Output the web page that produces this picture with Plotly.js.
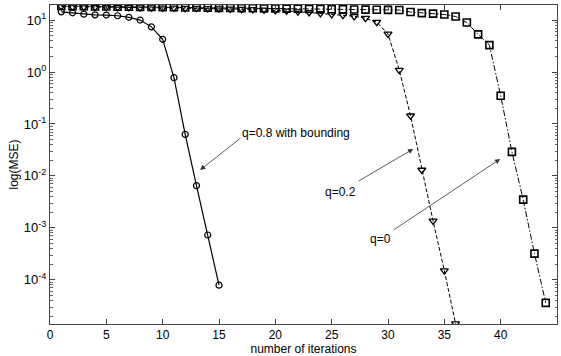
<!DOCTYPE html>
<html>
<head>
<meta charset="utf-8">
<script src="https://cdn.plot.ly/plotly-3.0.1.min.js"></script>
<style>html,body{margin:0;padding:0;background:#fff;}#chart{width:561px;height:356px;}</style>
</head>
<body>
<div id="chart"></div>
<script>
// Data
const xBound = [1,2,3,4,5,6,7,8,9,10,11,12,13,14,15];
const mseBound = [14.4,13.8,13.0,12.6,12.5,12.1,11.3,10.0,7.4,4.26,0.78,0.063,0.0065,0.00073,0.000079];

const xQ02 = Array.from({length:36},(_,i)=>i+1);
const mseQ02 = [18.2,18.0,17.9,17.8,17.7,17.6,17.5,17.4,17.3,17.2,17.1,17.0,16.9,16.8,16.6,16.4,16.2,16.0,15.7,15.4,15.0,14.5,14.0,13.4,12.9,12.4,11.8,10.9,9.1,5.4,1.09,0.144,0.013,0.00136,0.00015,0.0000143];

const xQ0 = Array.from({length:44},(_,i)=>i+1);
const mseQ0 = [18.6,18.5,18.4,18.3,18.2,18.1,18.0,17.9,17.8,17.7,17.6,17.5,17.4,17.3,17.2,17.1,17.0,16.9,16.8,16.7,16.6,16.5,16.4,16.3,16.2,16.1,16.0,15.9,15.8,15.7,15.6,14.3,13.6,13.3,12.8,11.7,8.95,5.3,3.3,0.35,0.029,0.0035,0.00032,0.000036];

const labels = ["q=0.8 with bounding","q=0.2","q=0"];
const yTickVals = [1e-4,1e-3,1e-2,1e-1,1,10];
const yTickText = ["10<sup>-4</sup>","10<sup>-3</sup>","10<sup>-2</sup>","10<sup>-1</sup>","10<sup>0</sup>","10<sup>1</sup>"];
const xTickVals = [0,5,10,15,20,25,30,35,40,45];

const minorVals = [];
for (let e=-5; e<=1; e++) for (let m=2; m<=9; m++) minorVals.push(m*Math.pow(10,e));

const F = "Arial, 'Liberation Sans', sans-serif";
const traces = [
  {x:xQ0, y:mseQ0, mode:'lines+markers', line:{color:'#000',width:1,dash:'6px,2px,1.5px,2px'},
   marker:{symbol:'square-open',size:7,color:'#000',line:{width:1.6,color:'#000'}}},
  {x:xQ02, y:mseQ02, mode:'lines+markers', line:{color:'#000',width:1,dash:'4px,2px'},
   marker:{symbol:'triangle-down-open',size:7,color:'#000',line:{width:1.3,color:'#000'}}},
  {x:xBound, y:mseBound, mode:'lines+markers', line:{color:'#000',width:1.2},
   marker:{symbol:'circle-open',size:6,color:'#000',line:{width:1.2,color:'#000'}}}
];

function arrow(tx,ty,hx,hy){
  return {x:hx,y:hy,ax:tx,ay:ty,xref:'x',yref:'y',axref:'x',ayref:'y',text:'',
    showarrow:true,arrowhead:2,arrowsize:1.3,arrowwidth:0.8,arrowcolor:'#333',standoff:0,startstandoff:0};
}
const annotations = [
  {x:16.87,y:-1.173,text:labels[0],xanchor:'left',yanchor:'middle',showarrow:false,font:{family:F,size:12,color:'#000'}},
  {x:24.25,y:-2.308,text:labels[1],xanchor:'left',yanchor:'middle',showarrow:false,font:{family:F,size:12,color:'#000'}},
  {x:28.24,y:-3.21,text:labels[2],xanchor:'left',yanchor:'middle',showarrow:false,font:{family:F,size:12,color:'#000'}},
  arrow(17.05,-1.25,13.32,-1.885),
  arrow(27.26,-2.115,32.24,-1.48),
  arrow(30.37,-3.058,39.96,-1.673)
];

const layout = {
  width:561,height:356,
  margin:{l:50,r:4,t:5,b:32},
  paper_bgcolor:'#fff',plot_bgcolor:'#fff',
  showlegend:false,
  font:{family:F,size:12,color:'#000'},
  xaxis:{range:[0,45],tickmode:'array',tickvals:xTickVals,ticks:'inside',ticklen:5,tickcolor:'#444',
    showline:true,linecolor:'#444',linewidth:1,mirror:'allticks',showgrid:false,zeroline:false,
    tickfont:{family:F,size:12,color:'#000'},automargin:false,
    title:{text:'number of iterations',font:{family:F,size:12,color:'#000'},standoff:3}},
  yaxis:{type:'log',range:[-4.85,1.29],tickmode:'array',tickvals:yTickVals,ticktext:yTickText,
    ticks:'inside',ticklen:5,tickcolor:'#444',
    showline:true,linecolor:'#444',linewidth:1,mirror:'allticks',showgrid:false,zeroline:false,
    minor:{tickmode:'array',tickvals:minorVals,ticks:'inside',ticklen:2.5,tickcolor:'#666',showgrid:false},
    tickfont:{family:F,size:13,color:'#000'},automargin:false,
    title:{text:'log(MSE)',font:{family:F,size:12,color:'#000'},standoff:2}},
  annotations:annotations
};
Plotly.newPlot('chart',traces,layout,{staticPlot:true,displayModeBar:false});
</script>
</body>
</html>
